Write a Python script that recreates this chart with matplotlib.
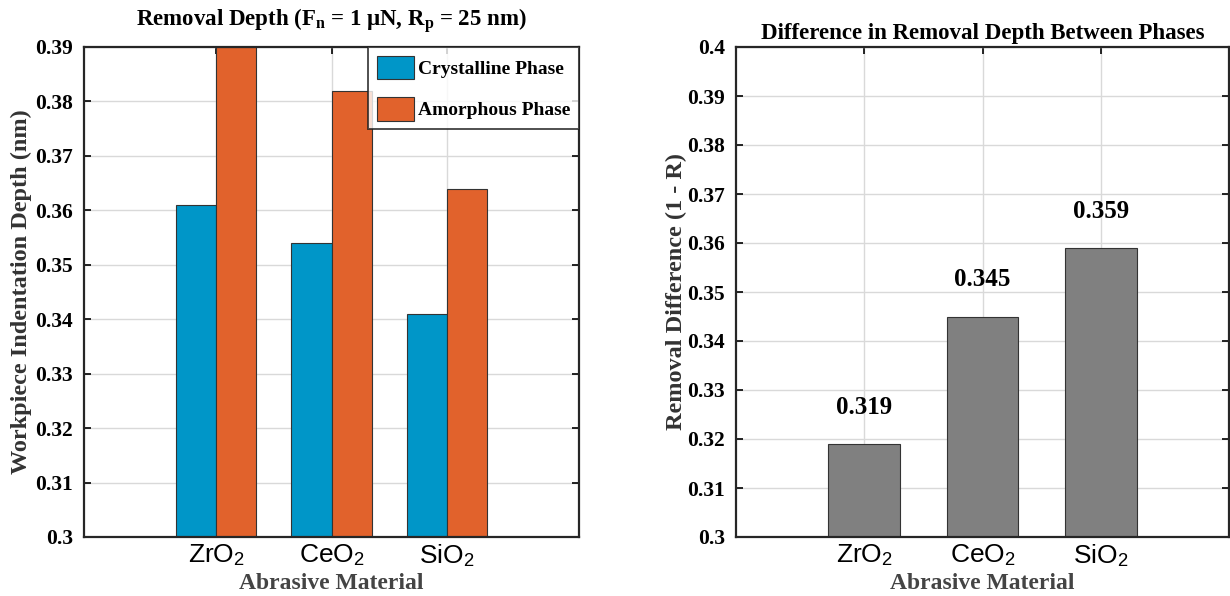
import numpy as np
import matplotlib
matplotlib.use("Agg")
import matplotlib.pyplot as plt

# data
materials = [r"ZrO$_\mathsf{2}$", r"CeO$_\mathsf{2}$", r"SiO$_\mathsf{2}$"]
crystalline = [0.361, 0.354, 0.341]
amorphous = [0.390, 0.382, 0.364]
difference = [0.319, 0.345, 0.359]
yticks_left = np.round(np.arange(0.30, 0.391, 0.01), 2)
yticks_right = np.round(np.arange(0.30, 0.401, 0.01), 2)

plt.rcParams['font.family'] = ['Liberation Serif', 'DejaVu Serif']
plt.rcParams['font.weight'] = 'bold'
plt.rcParams['mathtext.fontset'] = 'custom'
plt.rcParams['mathtext.rm'] = 'Liberation Serif:bold'
plt.rcParams['mathtext.bf'] = 'Liberation Serif:bold'
plt.rcParams['mathtext.it'] = 'Liberation Serif:bold'
plt.rcParams['mathtext.sf'] = 'Liberation Sans:normal'

blue = '#0096c8'
orange = '#e1622c'
gray = '#808080'


def style_axes(ax, ylim, yticks, xlim):
    ax.set_xlim(*xlim)
    ax.set_ylim(*ylim)
    ax.set_yticks(yticks)
    ax.set_yticklabels([('%g' % t) for t in yticks], fontsize=15.5, fontweight='bold')
    ax.set_xticks([1, 2, 3])
    ax.set_xticklabels(materials, fontsize=19, fontweight='normal',
                       family=['Liberation Sans', 'DejaVu Sans'])
    ax.tick_params(direction='in', top=True, right=True, length=5, width=1.2)
    ax.tick_params(axis='y', pad=8)
    ax.tick_params(axis='x', pad=4)
    ax.grid(True, color='#d9d9d9', linewidth=1.0)
    ax.set_axisbelow(True)
    for s in ax.spines.values():
        s.set_linewidth(1.6)
        s.set_color('#262626')
    ax.set_xlabel("Abrasive Material", fontsize=17, fontweight='bold',
                  color='#444444', labelpad=3)


fig = plt.figure(figsize=(12.3, 5.96), dpi=100)
ax1 = fig.add_axes([84 / 1230, 1 - 537 / 596, 495 / 1230, 490 / 596])
ax2 = fig.add_axes([736 / 1230, 1 - 537 / 596, 493 / 1230, 490 / 596])

x = np.array([1, 2, 3])
w = 0.35
ax1.bar(x - w / 2, crystalline, w, color=blue, edgecolor='#333333', linewidth=0.8,
        label='Crystalline Phase')
ax1.bar(x + w / 2, amorphous, w, color=orange, edgecolor='#333333', linewidth=0.8,
        label='Amorphous Phase')
style_axes(ax1, (0.30, 0.39), yticks_left, (-0.143, 4.143))
ax1.set_ylabel("Workpiece Indentation Depth (nm)", fontsize=17.5, fontweight='bold',
               color='#333333', labelpad=2)
ax1.set_title(r"Removal Depth (F$_{\mathbf{n}}$ = 1 μN, R$_{\mathbf{p}}$ = 25 nm)",
              fontsize=16.5, fontweight='bold', pad=15)
leg = ax1.legend(loc='upper right', fontsize=14, frameon=True, fancybox=False,
                 edgecolor='#222222', handlelength=1.9, handleheight=1.5,
                 borderaxespad=0.0, borderpad=0.45, labelspacing=0.9, handletextpad=0.2)
leg.get_frame().set_linewidth(1.4)
for t in leg.get_texts():
    t.set_fontweight('bold')

ax2.bar(x, difference, 0.6, color=gray, edgecolor='#333333', linewidth=0.8)
for xi, v in zip(x, difference):
    ax2.text(xi, v + 0.0075, '%.3f' % v, ha='center', va='center',
             fontsize=18, fontweight='bold')
style_axes(ax2, (0.30, 0.40), yticks_right, (-0.08, 4.08))
ax2.set_ylabel("Removal Difference (1 - R)", fontsize=17.5, fontweight='bold',
               color='#333333', labelpad=0)
ax2.set_title("Difference in Removal Depth Between Phases", fontsize=16.5,
              fontweight='bold', pad=6)

fig.savefig("out.png", dpi=100)
